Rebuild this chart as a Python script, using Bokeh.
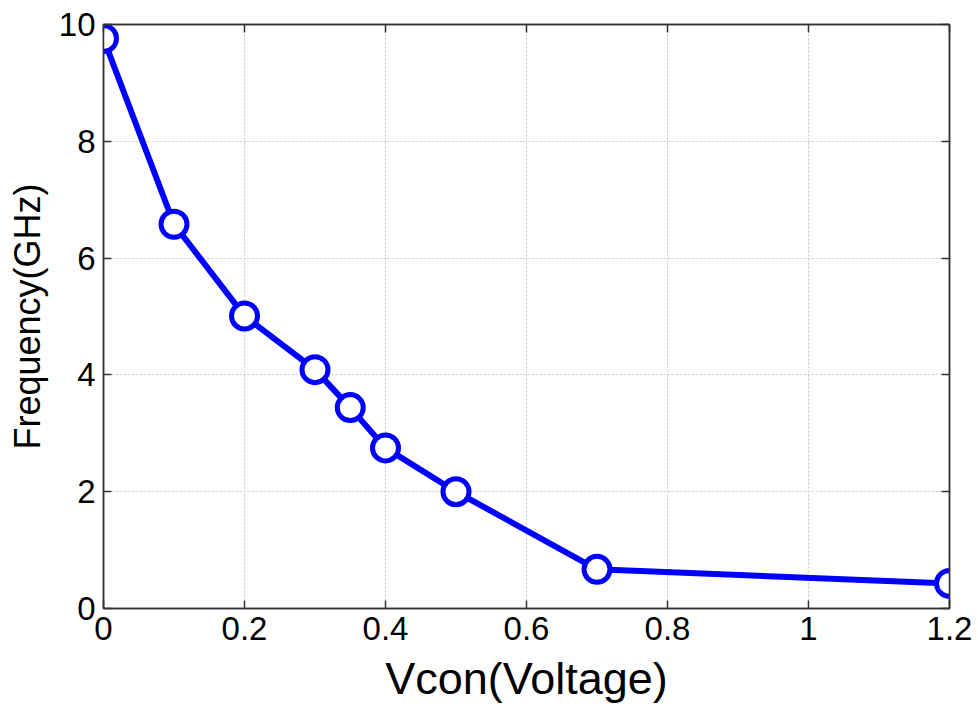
from bokeh.plotting import figure
from bokeh.models import LinearAxis, Range1d, FixedTicker
from bokeh.embed import file_html
from bokeh.resources import INLINE

vcon = [0.0, 0.1, 0.2, 0.3, 0.35, 0.4, 0.5, 0.7, 1.2]
freq = [9.76, 6.58, 5.01, 4.09, 3.44, 2.75, 2.0, 0.67, 0.43]
x_ticks = [0, 0.2, 0.4, 0.6, 0.8, 1.0, 1.2]
x_tick_labels = ["0", "0.2", "0.4", "0.6", "0.8", "1", "1.2"]
y_ticks = [0, 2, 4, 6, 8, 10]
y_tick_labels = ["0", "2", "4", "6", "8", "10"]

FONT = "Liberation Sans"
AX = "#333333"

p = figure(width=978, height=706, output_backend="svg", toolbar_location=None,
           x_range=Range1d(0, 1.2), y_range=Range1d(0, 10),
           min_border_left=103, min_border_right=29, min_border_top=24, min_border_bottom=97,
           x_axis_location=None, y_axis_location=None)
p.outline_line_color = AX
p.outline_line_width = 1.5
p.background_fill_color = "white"
p.border_fill_color = "white"

def style(ax, labels, show):
    ax.major_tick_in = 8
    ax.major_tick_out = 0
    ax.minor_tick_in = 0
    ax.minor_tick_out = 0
    ax.axis_line_color = AX
    ax.axis_line_width = 1.5
    ax.major_tick_line_color = AX
    ax.major_tick_line_width = 1.5
    ax.major_label_text_font = FONT
    ax.major_label_text_font_size = "33px"
    ax.major_label_text_color = "black"
    ax.axis_label_text_font = FONT
    ax.axis_label_text_font_style = "normal"
    ax.axis_label_text_color = "black"
    if show:
        ax.major_label_overrides = labels
    else:
        ax.major_label_text_font_size = "0px"
        ax.major_label_text_alpha = 0

xb = LinearAxis(ticker=FixedTicker(ticks=x_ticks))
style(xb, {v: l for v, l in zip(x_ticks, x_tick_labels)}, True)
xb.axis_label = "Vcon(Voltage)"
xb.axis_label_text_font_size = "45px"
xb.major_label_standoff = 8
xb.axis_label_standoff = 10
p.add_layout(xb, "below")

xt = LinearAxis(ticker=FixedTicker(ticks=x_ticks))
style(xt, {}, False)
p.add_layout(xt, "above")

yl = LinearAxis(ticker=FixedTicker(ticks=y_ticks))
style(yl, {v: l for v, l in zip(y_ticks, y_tick_labels)}, True)
yl.axis_label = "Frequency(GHz)"
yl.axis_label_text_font_size = "36px"
yl.major_label_standoff = 8
yl.axis_label_standoff = 8
p.add_layout(yl, "left")

yr = LinearAxis(ticker=FixedTicker(ticks=y_ticks))
style(yr, {}, False)
p.add_layout(yr, "right")

p.xgrid.ticker = FixedTicker(ticks=x_ticks)
p.ygrid.ticker = FixedTicker(ticks=y_ticks)
for g in (p.xgrid, p.ygrid):
    g.grid_line_color = "#c8c8c8"
    g.grid_line_dash = "2 2"
    g.grid_line_width = 1

p.line(vcon, freq, line_color="#0000ff", line_width=6)
p.scatter(vcon, freq, marker="circle", size=26, fill_color="white",
          line_color="#0000ff", line_width=5)

open("out.html", "w").write(file_html(p, INLINE))
